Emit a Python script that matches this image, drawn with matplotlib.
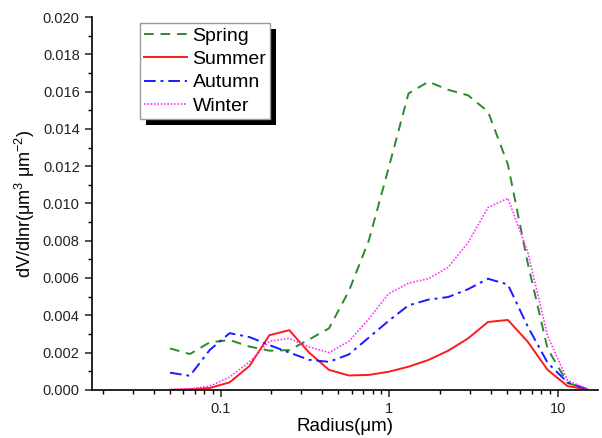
import numpy as np
import matplotlib.pyplot as plt
from matplotlib.patches import Rectangle
from matplotlib.ticker import FormatStrFormatter, MultipleLocator, FixedLocator, FixedFormatter, LogLocator, NullFormatter

plt.rcParams['font.family'] = ['Liberation Sans', 'DejaVu Sans']
plt.rcParams['mathtext.fontset'] = 'custom'
plt.rcParams['mathtext.rm'] = 'Liberation Sans'
plt.rcParams['mathtext.it'] = 'Liberation Sans'

# AERONET-like 22 size bins (um)
radius = [0.05, 0.0656, 0.0861, 0.1129, 0.1482, 0.1944, 0.2551, 0.3347, 0.4392, 0.5762, 0.7561,
          0.9920, 1.3016, 1.7078, 2.2407, 2.9400, 3.8575, 5.0613, 6.6407, 8.7131, 11.4323, 15.0]

spring = [0.00222, 0.00192, 0.00255, 0.00267, 0.00232, 0.00210, 0.00213, 0.00270, 0.00330, 0.00530, 0.00800,
          0.01190, 0.01590, 0.01653, 0.01610, 0.01580, 0.01493, 0.01210, 0.00680, 0.00220, 0.00037, 0.00002]
summer = [0.0, 0.00003, 0.00010, 0.00040, 0.00128, 0.00293, 0.00320, 0.00200, 0.00107, 0.00077, 0.00080,
          0.00097, 0.00124, 0.00160, 0.00210, 0.00276, 0.00364, 0.00375, 0.00258, 0.00107, 0.00020, 0.00002]
autumn = [0.00092, 0.00075, 0.00214, 0.00304, 0.00283, 0.00240, 0.00200, 0.00161, 0.00150, 0.00190, 0.00280,
          0.00370, 0.00453, 0.00484, 0.00498, 0.00540, 0.00596, 0.00565, 0.00340, 0.00145, 0.00040, 0.00003]
winter = [0.0, 0.00005, 0.00020, 0.00068, 0.00150, 0.00260, 0.00276, 0.00230, 0.00200, 0.00260, 0.00380,
          0.00516, 0.00572, 0.00596, 0.00658, 0.00790, 0.00978, 0.01028, 0.00740, 0.00290, 0.00050, 0.00005]

fig = plt.figure(figsize=(6.02, 4.38), dpi=100)
ax = fig.add_axes([0.152, 0.11, 0.841, 0.851])

ax.plot(radius, spring, color='#2a8a2a', linestyle=(0, (5, 3.5)), lw=1.4, label='Spring')
ax.plot(radius, summer, color='#ff1a1a', linestyle='-', lw=1.4, label='Summer')
ax.plot(radius, autumn, color='#1a1aff', linestyle=(0, (6, 2.5, 1.5, 2.5)), lw=1.4, label='Autumn')
ax.plot(radius, winter, color='#ff33ff', linestyle=(0, (1, 1)), lw=1.2, label='Winter')

ax.set_xscale('log')
ax.set_xlim(0.0171, 17.3)
ax.set_ylim(0, 0.020)

ax.xaxis.set_major_locator(FixedLocator([0.1, 1, 10]))
ax.xaxis.set_major_formatter(FixedFormatter(['0.1', '1', '10']))
ax.xaxis.set_minor_locator(LogLocator(base=10, subs=np.arange(2, 10)))
ax.xaxis.set_minor_formatter(NullFormatter())
ax.yaxis.set_major_locator(MultipleLocator(0.002))
ax.yaxis.set_minor_locator(MultipleLocator(0.001))
ax.yaxis.set_major_formatter(FormatStrFormatter('%.3f'))

ax.spines['top'].set_visible(False)
ax.spines['right'].set_visible(False)
ax.spines['left'].set_linewidth(1.2)
ax.spines['bottom'].set_linewidth(1.2)
ax.tick_params(which='major', direction='out', length=5, width=1.1, labelsize=10.5, colors='#222222')
ax.tick_params(which='minor', direction='out', length=3, width=1.0)

ax.set_xlabel('Radius(μm)', fontsize=13.5, labelpad=2)
ax.set_ylabel('dV/dlnr(μm$^{3}$ μm$^{-2}$)', fontsize=13, labelpad=4)

leg = ax.legend(loc='upper left', bbox_to_anchor=(0.096, 0.984), fontsize=14, frameon=True,
                fancybox=False, edgecolor='#999999', framealpha=1, handlelength=2.2,
                borderpad=0.2, labelspacing=0.3, handletextpad=0.3, borderaxespad=0)
leg.get_frame().set_linewidth(1.0)
leg.set_zorder(6)

# black drop shadow behind the legend box
fig.canvas.draw()
bb = leg.get_window_extent().transformed(fig.transFigure.inverted())
dx, dy = 6 / 602, 6 / 438
ax.add_patch(Rectangle((bb.x0 + dx, bb.y0 - dy), bb.width, bb.height, transform=fig.transFigure,
                       facecolor='black', edgecolor='none', zorder=5, clip_on=False))

fig.savefig('out.png', dpi=100)
